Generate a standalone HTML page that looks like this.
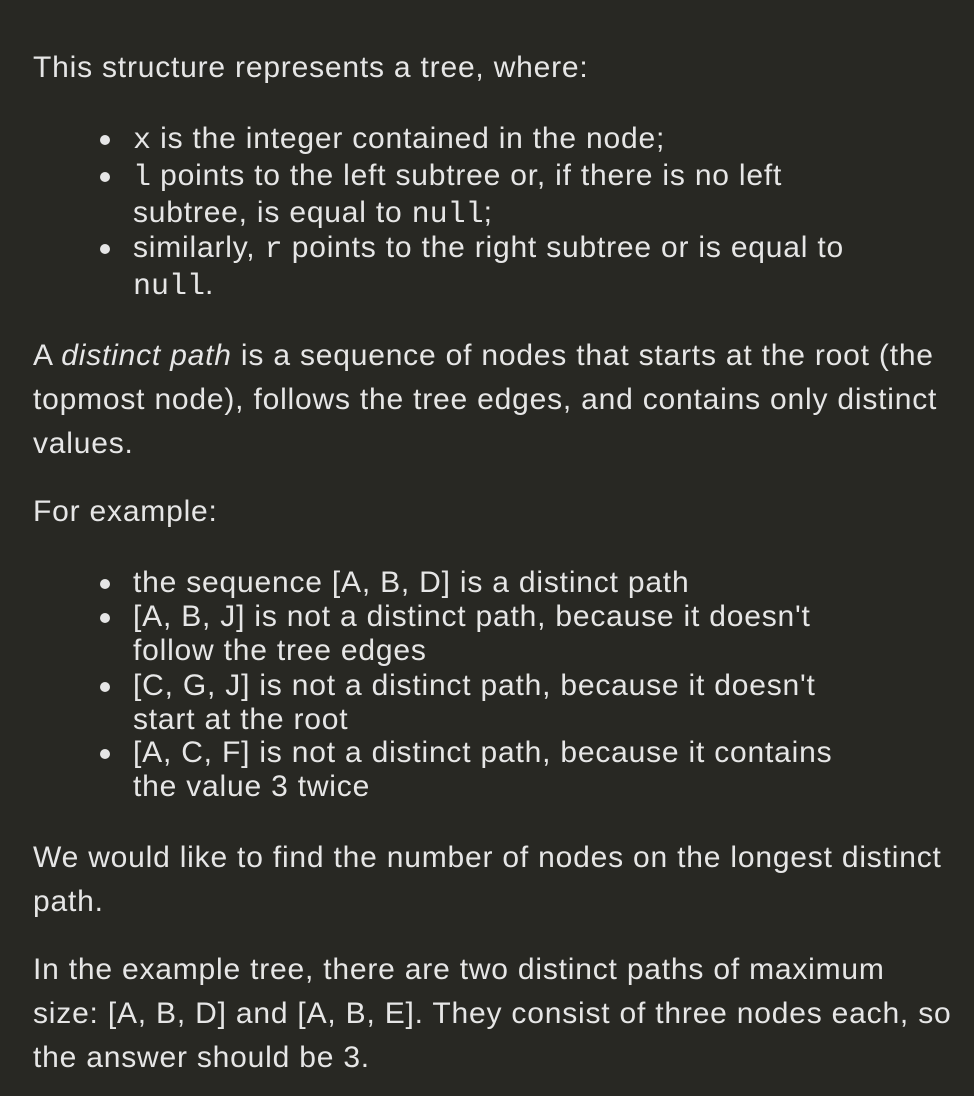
<!DOCTYPE html>
<html><head><meta charset="utf-8"><style>
html,body{margin:0;padding:0;background:#282823;}
body{width:974px;height:1096px;position:relative;overflow:hidden;font-family:"Liberation Sans",sans-serif;font-size:30px;letter-spacing:0.8px;color:#e6e6e6;}
.l{position:absolute;left:33px;height:34px;line-height:34px;white-space:nowrap;margin-top:1px;}
.b{left:133px;}
.b.d::before{content:"";position:absolute;left:-33px;top:13px;width:10px;height:10px;border-radius:50%;background:#e6e6e6;}
code{font-family:"Liberation Mono","Courier New",monospace;font-size:30px;letter-spacing:0;}
</style></head><body>
<div class="l" style="top:50px">This structure represents a tree, where:</div>
<div class="l b d" style="top:121px"><code>x</code> is the integer contained in the node;</div>
<div class="l b d" style="top:158px"><code>l</code> points to the left subtree or, if there is no left</div>
<div class="l b" style="top:195px">subtree, is equal to <code>null</code>;</div>
<div class="l b d" style="top:230px">similarly, <code>r</code> points to the right subtree or is equal to</div>
<div class="l b" style="top:267px"><code>null</code>.</div>
<div class="l" style="top:338px">A <i>distinct path</i> is a sequence of nodes that starts at the root (the</div>
<div class="l" style="top:382px">topmost node), follows the tree edges, and contains only distinct</div>
<div class="l" style="top:426px">values.</div>
<div class="l" style="top:494px">For example:</div>
<div class="l b d" style="top:565px">the sequence [A, B, D] is a distinct path</div>
<div class="l b d" style="top:599px">[A, B, J] is not a distinct path, because it doesn't</div>
<div class="l b" style="top:633px">follow the tree edges</div>
<div class="l b d" style="top:668px">[C, G, J] is not a distinct path, because it doesn't</div>
<div class="l b" style="top:702px">start at the root</div>
<div class="l b d" style="top:735px">[A, C, F] is not a distinct path, because it contains</div>
<div class="l b" style="top:769px">the value 3 twice</div>
<div class="l" style="top:840px">We would like to find the number of nodes on the longest distinct</div>
<div class="l" style="top:884px">path.</div>
<div class="l" style="top:952px">In the example tree, there are two distinct paths of maximum</div>
<div class="l" style="top:996px">size: [A, B, D] and [A, B, E]. They consist of three nodes each, so</div>
<div class="l" style="top:1040px">the answer should be 3.</div>
</body></html>
